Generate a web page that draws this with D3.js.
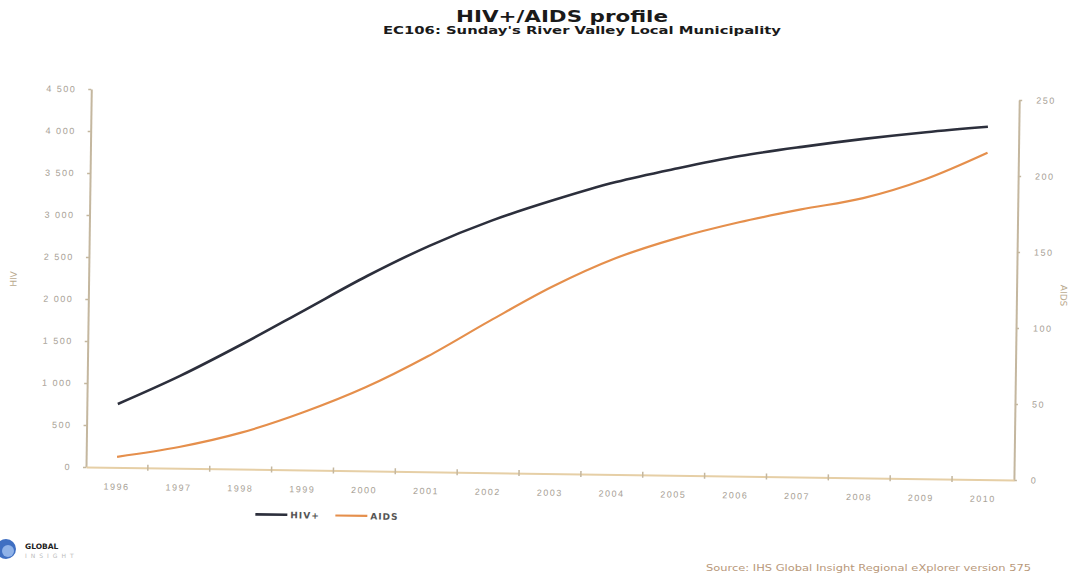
<!DOCTYPE html>
<html>
<head>
<meta charset="utf-8">
<script src="https://cdn.jsdelivr.net/npm/d3@7"></script>
<style>
  body { margin: 0; background: #fff; }
  svg { display: block; font-family: "DejaVu Sans", sans-serif; }
</style>
</head>
<body>
<div id="chart"></div>
<script>
// 数据
const years = ["1996","1997","1998","1999","2000","2001","2002","2003","2004","2005","2006","2007","2008","2009","2010"];
const hiv  = [755, 1100, 1490, 1905, 2320, 2690, 3000, 3255, 3480, 3655, 3810, 3930, 4035, 4125, 4200];
const aids = [7, 14, 24, 38, 55, 76, 100, 123, 142, 156, 167, 176, 184, 197, 215];
const leftTicks = [0, 500, 1000, 1500, 2000, 2500, 3000, 3500, 4000, 4500];
const rightTicks = [0, 50, 100, 150, 200, 250];

const W = 1071, H = 577;
const axisColor = "#c4b79f";
const labelColor = "#a8a196";
const hivColor = "#2c2f3c";
const aidsColor = "#e58f4c";

const svg = d3.select("#chart").append("svg")
    .attr("width", W).attr("height", H);
svg.append("rect").attr("width", W).attr("height", H).attr("fill", "#fff");

// 标题
svg.append("text").attr("x", 562).attr("y", 22).attr("text-anchor", "middle")
    .attr("font-size", 15).attr("font-weight", "bold").attr("fill", "#1a1a1a")
    .attr("textLength", 212).attr("lengthAdjust", "spacingAndGlyphs")
    .text("HIV+/AIDS profile");
svg.append("text").attr("x", 582).attr("y", 34).attr("text-anchor", "middle")
    .attr("font-size", 11).attr("font-weight", "bold").attr("fill", "#1a1a1a")
    .attr("textLength", 398).attr("lengthAdjust", "spacingAndGlyphs")
    .text("EC106: Sunday's River Valley Local Municipality");

// 扫描件略微倾斜，整体绕左下角旋转
const g = svg.append("g").attr("transform", "rotate(0.8, 86, 467)");

const x = d3.scaleBand().domain(years).range([86, 1014]);
const yL = d3.scaleLinear().domain([0, 4500]).range([467, 89]);
const yR = d3.scaleLinear().domain([0, 250]).range([467, 87]);

// 左轴
const axL = g.append("g").attr("transform", "translate(86,0)")
    .call(d3.axisLeft(yL).tickValues(leftTicks).tickSize(3).tickSizeOuter(0).tickPadding(12)
        .tickFormat(d => d3.format(",")(d).replace(",", " ")));
// 右轴
const axR = g.append("g").attr("transform", "translate(1014,0)")
    .call(d3.axisRight(yR).tickValues(rightTicks).tickSize(3).tickSizeOuter(0).tickPadding(14));
// x轴
const axB = g.append("g").attr("transform", "translate(0,467)")
    .call(d3.axisBottom(x).tickSize(0).tickSizeOuter(0).tickPadding(16));
// 类别之间的小刻度
g.append("g").selectAll("line").data(years.slice(1)).join("line")
    .attr("x1", d => x(d)).attr("x2", d => x(d))
    .attr("y1", 464).attr("y2", 470)
    .attr("stroke", axisColor).attr("stroke-width", 1.5);

[axL, axR, axB].forEach(a => {
    a.select(".domain").attr("stroke", axisColor).attr("stroke-width", 2);
    a.selectAll(".tick line").attr("stroke", axisColor).attr("stroke-width", 1.5);
    a.selectAll(".tick text").attr("fill", labelColor).attr("font-size", 9)
        .attr("letter-spacing", "1.5px");
});
axB.select(".domain").attr("stroke", "#e6cfa6");

// 轴标题
g.append("text").attr("transform", "translate(14,280) rotate(-90)")
    .attr("text-anchor", "middle").attr("font-size", 9).attr("fill", "#b9a98e")
    .text("HIV");
g.append("text").attr("transform", "translate(1058,282) rotate(90)")
    .attr("text-anchor", "middle").attr("font-size", 9).attr("fill", "#b9a98e")
    .text("AIDS");

// 线
const cx = d => x(d) + x.bandwidth() / 2;
const lineL = d3.line().x((d, i) => cx(years[i])).y(d => yL(d)).curve(d3.curveMonotoneX);
const lineR = d3.line().x((d, i) => cx(years[i])).y(d => yR(d)).curve(d3.curveMonotoneX);

g.append("path").datum(aids).attr("d", lineR)
    .attr("fill", "none").attr("stroke", aidsColor).attr("stroke-width", 2.2);
g.append("path").datum(hiv).attr("d", lineL)
    .attr("fill", "none").attr("stroke", hivColor).attr("stroke-width", 2.6);

// 图例
const legend = [
    { name: "HIV+", color: hivColor, w: 2.6 },
    { name: "AIDS", color: aidsColor, w: 2.2 }
];
const lg = g.append("g").attr("transform", "translate(256,512)");
legend.forEach((l, i) => {
    const o = i * 80;
    lg.append("line").attr("x1", o).attr("x2", o + 32).attr("y1", 0).attr("y2", 0)
        .attr("stroke", l.color).attr("stroke-width", l.w);
    lg.append("text").attr("x", o + 35).attr("y", 3.5).attr("font-size", 9)
        .attr("font-weight", "bold").attr("fill", "#555").attr("letter-spacing", "1px")
        .text(l.name);
});

// logo
const logo = svg.append("g").attr("transform", "translate(6,549)");
logo.append("circle").attr("r", 10).attr("fill", "#3f6fc2");
logo.append("circle").attr("r", 6).attr("cx", 2).attr("cy", 2).attr("fill", "#8fb2e8");
logo.append("text").attr("x", 19).attr("y", 0).attr("font-size", 7.5)
    .attr("font-weight", "bold").attr("fill", "#222").text("GLOBAL");
logo.append("text").attr("x", 19).attr("y", 9).attr("font-size", 6)
    .attr("fill", "#bbb").attr("letter-spacing", "4px").text("INSIGHT");

// 来源
svg.append("text").attr("x", 706).attr("y", 571).attr("font-size", 8.5)
    .attr("fill", "#b8987a").attr("textLength", 325).attr("lengthAdjust", "spacingAndGlyphs")
    .text("Source: IHS Global Insight Regional eXplorer version 575");
</script>
</body>
</html>
